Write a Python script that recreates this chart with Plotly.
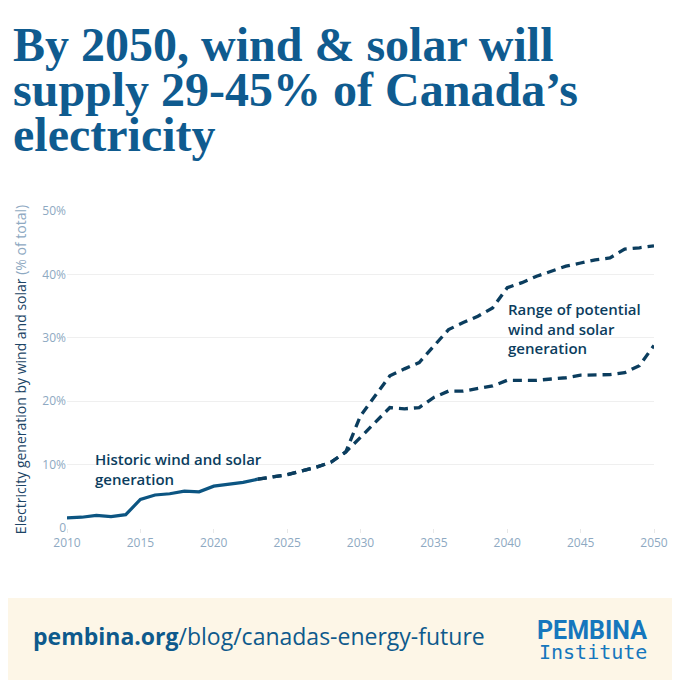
import plotly.graph_objects as go

# historic share of electricity from wind + solar (%)
hist_years = list(range(2010, 2024))
hist_share = [1.6, 1.7, 2.0, 1.8, 2.1, 4.5, 5.2, 5.4, 5.8, 5.7, 6.6, 6.9, 7.2, 7.7]

# projected range (%)
proj_years = list(range(2023, 2051))
proj_low = [7.7, 8.0, 8.4, 9.0, 9.6, 10.4, 12.0, 14.3, 16.7, 19.0, 18.8, 19.0, 20.6,
            21.6, 21.6, 22.0, 22.4, 23.3, 23.3, 23.3, 23.5, 23.7, 24.1, 24.2, 24.2,
            24.5, 25.6, 28.8]
proj_high = [7.7, 8.0, 8.4, 9.0, 9.6, 10.4, 12.0, 17.7, 20.9, 24.0, 25.1, 26.1, 28.7,
             31.3, 32.4, 33.4, 34.7, 37.9, 38.7, 39.7, 40.5, 41.3, 41.8, 42.3, 42.6,
             44.0, 44.2, 44.5]

x_ticks = [2010, 2015, 2020, 2025, 2030, 2035, 2040, 2045, 2050]
y_ticks = [0, 10, 20, 30, 40, 50]
y_labels = ["0", "10%", "20%", "30%", "40%", "50%"]

title_lines = ["By 2050, wind & solar will", "supply 29-45% of Canada’s", "electricity"]

NAVY = "#0b3d5e"
BLUE = "#0f5b8f"
TICK = "#8ea9c2"
FONT = "Open Sans"

fig = go.Figure()
fig.add_trace(go.Scatter(x=hist_years, y=hist_share, mode="lines",
                         line=dict(color="#0c5582", width=3.2)))
fig.add_trace(go.Scatter(x=proj_years, y=proj_low, mode="lines",
                         line=dict(color=NAVY, width=3.3, dash="9px,6px")))
fig.add_trace(go.Scatter(x=proj_years, y=proj_high, mode="lines",
                         line=dict(color=NAVY, width=3.3, dash="9px,6px")))

# footer band
fig.add_shape(type="rect", xref="paper", yref="paper",
              x0=-0.2, x1=1.1, y0=-0.2208, y1=-0.55,
              fillcolor="#fdf6e7", line_width=0, layer="below")

# title, one annotation per line to get the tight line spacing
for i, line in enumerate(title_lines):
    fig.add_annotation(x=-0.095, y=1.524 - i * 0.142, xref="paper", yref="paper",
                       xanchor="left", yanchor="middle", showarrow=False, text=line,
                       font=dict(family="Liberation Serif", size=48, color=BLUE, weight="bold"))

fig.add_annotation(x=2011.8, y=9.3, xref="x", yref="y", xanchor="left", yanchor="middle",
                   text="Historic wind and solar<br>generation", showarrow=False, align="left",
                   font=dict(family=FONT, size=15, color=NAVY, weight=600))
fig.add_annotation(x=2039.9, y=31.4, xref="x", yref="y", xanchor="left", yanchor="middle",
                   text="Range of potential<br>wind and solar<br>generation", showarrow=False,
                   align="left", font=dict(family=FONT, size=15, color=NAVY, weight=600))

fig.add_annotation(x=-0.062, y=-0.341, xref="paper", yref="paper", xanchor="left",
                   yanchor="middle", showarrow=False,
                   text="<b>pembina.org</b>/blog/canadas-energy-future",
                   font=dict(family=FONT, size=23, color="#0e5a8c"))
fig.add_annotation(x=0.992, y=-0.323, xref="paper", yref="paper", xanchor="right",
                   yanchor="middle", showarrow=False, text="<b>PEMBINA</b>",
                   font=dict(family="Roboto", size=25, color="#1677bd"))
fig.add_annotation(x=0.992, y=-0.392, xref="paper", yref="paper", xanchor="right",
                   yanchor="middle", showarrow=False, text="Institute",
                   font=dict(family="DejaVu Sans Mono", size=20, color="#1677bd"))

fig.update_layout(
    width=680, height=680,
    margin=dict(l=59, r=34, t=203, b=160),
    paper_bgcolor="white", plot_bgcolor="white",
    showlegend=False,
    font=dict(family=FONT),
)
fig.update_xaxes(range=[2010, 2050], tickvals=x_ticks, showgrid=False, zeroline=False,
                 ticks="outside", ticklen=4, tickcolor="#e8e8e8",
                 tickfont=dict(family=FONT, size=12, color=TICK), showline=False)
fig.update_yaxes(range=[0, 50], tickvals=y_ticks, ticktext=y_labels,
                 gridcolor="#efefef", gridwidth=1, zeroline=False,
                 tickfont=dict(family=FONT, size=12, color=TICK),
                 title=dict(text="Electricity generation by wind and solar "
                                 "<span style='color:#8ea9c2'>(% of total)</span>",
                            font=dict(family=FONT, size=14, color="#1d4566"), standoff=12))

fig.write_html("out.html")
